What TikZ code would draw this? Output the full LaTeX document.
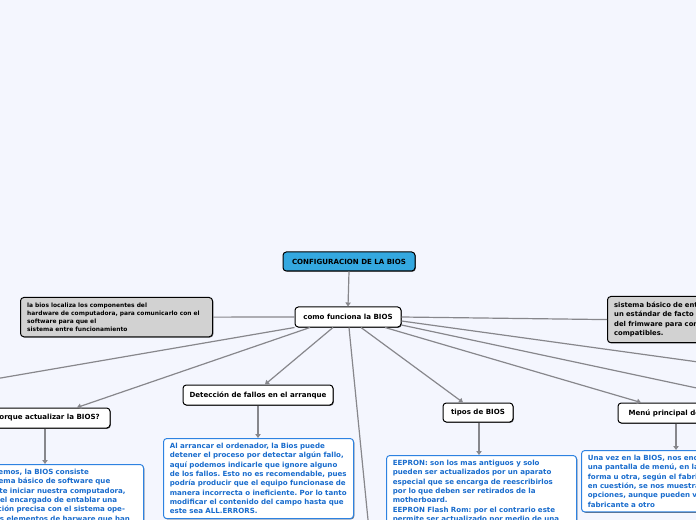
\documentclass[tikz,border=0pt]{standalone}
\usepackage{fontspec}
\setmainfont{DejaVu Sans}
\usetikzlibrary{arrows.meta,shadows,calc}
\definecolor{bg}{RGB}{244,246,254}
\definecolor{cfgfill}{RGB}{52,168,224}
\definecolor{grayfill}{RGB}{210,210,210}
\definecolor{bluebd}{RGB}{45,130,225}
\definecolor{bluetx}{RGB}{25,108,205}
\definecolor{conn}{RGB}{135,135,140}
\newcommand\oneline[1]{\mbox{#1}}
\tikzset{
  shad/.style={drop shadow={shadow xshift=0.6pt,shadow yshift=-0.6pt,opacity=0.55,fill=black}},
  hdr/.style={draw=black,line width=0.75pt,rounded corners=2.5pt,fill=white,
    font=\fontsize{5.3}{6}\selectfont\bfseries,inner sep=0pt,shad},
  graybox/.style={draw=black,line width=0.75pt,rounded corners=2.5pt,fill=grayfill,
    align=left,inner xsep=5pt,shad},
  bluebox/.style={draw=bluebd,line width=0.75pt,rounded corners=2.5pt,fill=white,
    text=bluetx,font=\fontsize{5.3}{7}\selectfont\bfseries\frenchspacing,align=left,
    text width=133pt,inner xsep=4.75pt,inner ysep=3.5pt,shad},
  link/.style={draw=conn,line width=0.9pt},
  arr/.style={link,-{Triangle[width=4pt,length=3pt]}},
}
\begin{document}
\begin{tikzpicture}[x=0.75pt,y=-0.75pt]
\useasboundingbox (0,0) rectangle (696,520);
\fill[bg] (0,0) rectangle (696,520);
\clip (0,0) rectangle (696,520);

% free ends of connectors leaving the picture
\coordinate (offleft) at (-40,385);
\coordinate (offdown) at (370,540);
\coordinate (offright1) at (720,365);
\coordinate (offright2) at (720,393);

% main nodes
\node[hdr,fill=cfgfill,minimum width=99pt,minimum height=14.25pt] (cfg) at (349,261.5) {CONFIGURACION DE LA BIOS};
\node[hdr,minimum width=79.5pt,minimum height=15pt] (como) at (348,317) {como funciona la BIOS};

\node[graybox,anchor=north west,text width=134pt,inner ysep=4pt,
      font=\fontsize{4.45}{6}\selectfont\bfseries] (izq) at (20,297)
  {la bios localiza los componentes del\\
   hardware de computadora, para comunicarlo con el\\
   software para que el\\
   sistema entre funcionamiento};

\node[graybox,anchor=north west,text width=190pt,inner ysep=4.25pt,
      font=\fontsize{5.1}{7}\selectfont\bfseries] (der) at (607,296)
  {sistema básico de entrada/salida,\\
   un estándar de facto que define la interfaz\\
   del frimware para computadoras IBM PC\\
   compatibles.};

\node[hdr,minimum width=97.5pt,minimum height=15pt] (porq) at (45,418) {¿porque actualizar la BIOS?};
\node[hdr,minimum width=112.5pt,minimum height=15pt] (det) at (258,395) {Detección de fallos en el arranque};
\node[hdr,minimum width=52.5pt,minimum height=14.25pt] (tip) at (478,412.5) {tipos de BIOS};
\node[hdr,minimum width=93pt,minimum height=15pt] (menu) at (680,413) {Menú principal de la BIOS};

% child boxes
\node[bluebox,anchor=north west,text depth=40pt] (porqc) at (-47,464)
  {\oneline{Como sabemos, la BIOS consiste}\\
   \oneline{en un sistema básico de software que}\\
   \oneline{nos permite iniciar nuestra computadora,}\\
   \oneline{ya que es el encargado de entablar una}\\
   \oneline{comunicación precisa con el sistema ope-}\\
   \oneline{rativo y los elementos de harware que han}};

\node[bluebox,anchor=north west] (detc) at (163,438)
  {\oneline{Al arrancar el ordenador, la Bios puede}\\
   \oneline{detener el proceso por detectar algún fallo,}\\
   \oneline{aquí podemos indicarle que ignore alguno}\\
   \oneline{de los fallos. Esto no es recomendable, pues}\\
   \oneline{podría producir que el equipo funcionase de}\\
   \oneline{manera incorrecta o ineficiente. Por lo tanto}\\
   \oneline{modificar el contenido del campo hasta que}\\
   \oneline{este sea ALL.ERRORS.}};

\node[bluebox,anchor=north west] (tipc) at (386,455)
  {\oneline{EEPRON: son los mas antiguos y solo}\\
   \oneline{pueden ser actualizados por un aparato}\\
   \oneline{especial que se encarga de reescribirlos}\\
   \oneline{por lo que deben ser retirados de la}\\
   \oneline{motherboard.}\\
   \oneline{EEPRON Flash Rom: por el contrario este}\\
   \oneline{permite ser actualizado por medio de una}};

\node[bluebox,anchor=north west] (menuc) at (581,450)
  {\oneline{Una vez en la BIOS, nos encontramos con}\\
   \oneline{una pantalla de menú, en la que de una}\\
   \oneline{forma u otra, según el fabricante}\\
   \oneline{en cuestión, se nos muestran las}\\
   \oneline{opciones, aunque pueden variar de un}\\
   \oneline{fabricante a otro}};

% connectors
\draw[arr] (cfg.south) -- (como.north);
\draw[link] (como.west) -- (izq.east);
\draw[link] (como.east) -- (der.west);
\draw[link] (como.south west) -- (offleft);
\draw[arr] ($(como.south)+(-38,0)$) -- ($(porq.north)+(32,0)$);
\draw[arr] ($(como.south)+(-15,0)$) -- ($(det.north)+(7,0)$);
\draw[link] ($(como.south)+(1,0)$) -- (offdown);
\draw[arr] ($(como.south)+(13,0)$) -- ($(tip.north)+(-15,0)$);
\draw[arr] ($(como.south)+(37,0)$) -- ($(menu.north)+(-39,0)$);
\draw[link] ($(como.east)+(0,4)$) -- (offright1);
\draw[link] ($(como.east)+(0,8)$) -- (offright2);

\draw[arr] (porq.south) -- (porq.south |- porqc.north);
\draw[arr] (det.south) -- (det.south |- detc.north);
\draw[arr] ($(tip.south)+(1,0)$) -- ($(tip.south |- tipc.north)+(1,0)$);
\draw[arr] ($(menu.south)+(-4,0)$) -- ($(menu.south |- menuc.north)+(-4,0)$);
\end{tikzpicture}
\end{document}
